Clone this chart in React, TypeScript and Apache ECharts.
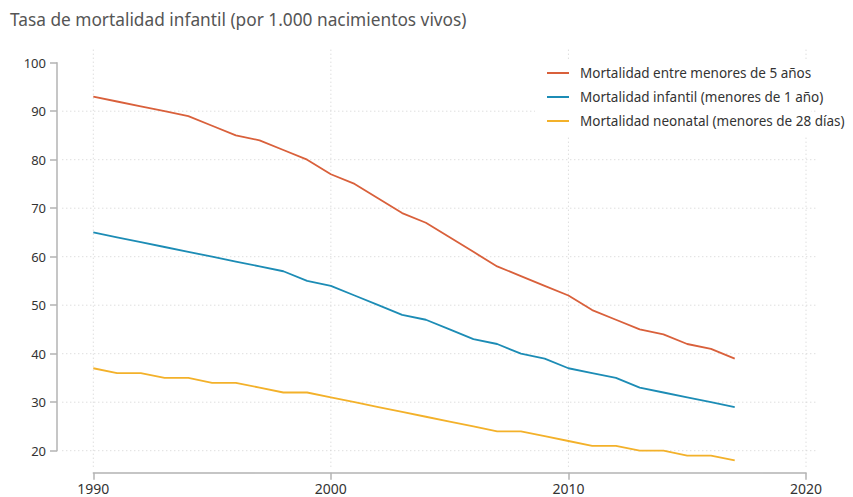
import React, { useEffect, useRef } from "react";
import * as echarts from "echarts";

const years = [
  1990, 1991, 1992, 1993, 1994, 1995, 1996, 1997, 1998, 1999, 2000, 2001, 2002, 2003,
  2004, 2005, 2006, 2007, 2008, 2009, 2010, 2011, 2012, 2013, 2014, 2015, 2016, 2017,
];
const under5 = [
  93, 92, 91, 90, 89, 87, 85, 84, 82, 80, 77, 75, 72, 69,
  67, 64, 61, 58, 56, 54, 52, 49, 47, 45, 44, 42, 41, 39,
];
const infant = [
  65, 64, 63, 62, 61, 60, 59, 58, 57, 55, 54, 52, 50, 48,
  47, 45, 43, 42, 40, 39, 37, 36, 35, 33, 32, 31, 30, 29,
];
const neonatal = [
  37, 36, 36, 35, 35, 34, 34, 33, 32, 32, 31, 30, 29, 28,
  27, 26, 25, 24, 24, 23, 22, 21, 21, 20, 20, 19, 19, 18,
];
const seriesNames = [
  "Mortalidad entre menores de 5 años",
  "Mortalidad infantil (menores de 1 año)",
  "Mortalidad neonatal (menores de 28 días)",
];
const seriesColors = ["#D9603B", "#1C8CB5", "#F3B12A"];
const gridYears = [1990, 2000, 2010, 2020];
const gridValues = [20, 30, 40, 50, 60, 70, 80, 90];
const titleText = "Tasa de mortalidad infantil (por 1.000 nacimientos vivos)";

const FONT = "'Noto Sans', sans-serif";

export default function App() {
  const ref = useRef<HTMLDivElement>(null);
  useEffect(() => {
    if (!ref.current) return;
    const chart = echarts.init(ref.current, null, { renderer: "svg" });
    const gridStyle = { stroke: "#cfcfcf", lineWidth: 1, lineDash: [1, 3] };
    const lineData = [under5, infant, neonatal];
    chart.setOption({
      animation: false,
      backgroundColor: "#ffffff",
      title: {
        text: titleText,
        left: 10,
        top: 11,
        padding: 0,
        textStyle: { fontFamily: FONT, fontSize: 17.3, fontWeight: "normal", color: "#555555" },
      },
      grid: { left: 93.3, right: 47, top: 62.7, bottom: 46.3 },
      xAxis: {
        type: "value",
        min: 1990,
        max: 2020,
        interval: 10,
        offset: 22,
        axisLine: { show: true, lineStyle: { color: "#b3b3b3", width: 1.5 } },
        axisTick: { show: true, length: 7, lineStyle: { color: "#b3b3b3", width: 1.5 } },
        axisLabel: {
          margin: 9,
          fontFamily: FONT,
          fontSize: 14,
          color: "#333333",
          formatter: (v: number) => String(v),
        },
        splitLine: { show: false },
      },
      yAxis: {
        type: "value",
        min: 20,
        max: 100,
        interval: 10,
        offset: 36.3,
        axisLine: { show: true, lineStyle: { color: "#b3b3b3", width: 1.5 } },
        axisTick: { show: true, length: 7, lineStyle: { color: "#b3b3b3", width: 1.5 } },
        axisLabel: { margin: 11, fontFamily: FONT, fontSize: 13, color: "#333333" },
        splitLine: { show: false },
      },
      legend: {
        data: seriesNames,
        orient: "vertical",
        left: 547,
        top: 65,
        padding: 0,
        itemWidth: 22,
        itemHeight: 2,
        itemGap: 8,
        icon: "rect",
        textStyle: {
          fontFamily: FONT,
          fontSize: 13.5,
          color: "#333333",
          lineHeight: 16,
          padding: [0, 0, 0, 6],
        },
        z: 6,
      },
      graphic: [
        {
          type: "rect",
          z: 4,
          silent: true,
          shape: { x: 535, y: 59, width: 276, height: 76 },
          style: { fill: "#ffffff" },
        },
      ],
      series: [
        {
          type: "custom",
          name: "vgrid",
          z: 1,
          silent: true,
          clip: false,
          data: gridYears.map((y) => [y, 20]),
          renderItem: (params: any, api: any) => {
            const x = api.value(0);
            const top = api.coord([x, 100]);
            const bot = api.coord([x, 20]);
            return {
              type: "line",
              shape: { x1: top[0], y1: top[1] - 13, x2: bot[0], y2: bot[1] + 19 },
              style: gridStyle,
            };
          },
        },
        {
          type: "custom",
          name: "hgrid",
          z: 1,
          silent: true,
          clip: false,
          data: gridValues.map((v) => [1990, v]),
          renderItem: (params: any, api: any) => {
            const v = api.value(1);
            const l = api.coord([1990, v]);
            const r = api.coord([2020, v]);
            return {
              type: "line",
              shape: { x1: l[0] - 31, y1: l[1], x2: r[0] + 12, y2: r[1] },
              style: gridStyle,
            };
          },
        },
        ...seriesNames.map((name, i) => ({
          type: "line",
          name,
          z: 3,
          clip: false,
          symbol: "none",
          color: seriesColors[i],
          lineStyle: { color: seriesColors[i], width: 1.8 },
          data: years.map((y, j) => [y, lineData[i][j]]),
        })),
      ],
    });
    return () => chart.dispose();
  }, []);
  return <div ref={ref} style={{ width: 853, height: 497, position: "absolute", left: 0, top: 0 }} />;
}
